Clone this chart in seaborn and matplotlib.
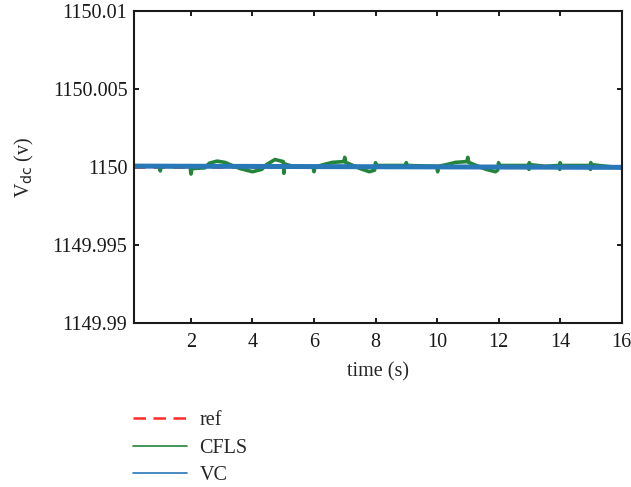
import matplotlib
matplotlib.use("Agg")
import matplotlib.pyplot as plt
from matplotlib.lines import Line2D
import seaborn as sns
import pandas as pd

# ---- data ----
ref_t = [0.16, 16.0]
ref_v = [1150.0, 1150.0]

cfls_t = [0.16, 0.5, 0.8, 0.97, 1.0, 1.03, 1.3, 1.97, 2.0, 2.03, 2.45, 2.6, 2.85,
          3.1, 3.4, 3.6, 4.0, 4.3, 4.45, 4.73, 5.0, 5.02, 5.05, 5.3, 5.97, 6.0,
          6.03, 6.3, 6.6, 6.97, 7.0, 7.03, 7.33, 7.5, 7.8, 7.97, 8.0, 8.03, 8.97,
          9.0, 9.03, 9.99, 10.02, 10.05, 10.3, 10.6, 10.97, 11.0, 11.03, 11.4,
          11.6, 11.9, 11.97, 12.0, 12.03, 12.97, 12.99, 13.0, 13.03, 13.5, 13.97,
          13.99, 14.0, 14.03, 14.97, 14.99, 15.0, 15.03, 15.5, 16.0]
cfls_v = [1150.00003, 1150.00005, 1150.00008, 1150.00005, 1149.99975, 1150.00003,
          1150.00003, 1150.00003, 1149.99955, 1149.9999, 1149.99995, 1150.00025,
          1150.00038, 1150.0003, 1150.00005, 1149.9999, 1149.9997, 1149.99985,
          1150.00015, 1150.00048, 1150.00035, 1149.9996, 1150.0002, 1150.00005,
          1150.0, 1149.9997, 1150.0, 1150.00015, 1150.0003, 1150.00035, 1150.00062,
          1150.0003, 1150.00005, 1149.9999, 1149.9997, 1149.9998, 1150.00028,
          1150.0001, 1150.0001, 1150.00028, 1150.0001, 1150.00005, 1149.9997,
          1150.00005, 1150.00015, 1150.0003, 1150.00035, 1150.00062, 1150.0003,
          1150.0, 1149.99985, 1149.9997, 1149.9998, 1150.00028, 1150.0001,
          1150.0001, 1149.99985, 1150.00028, 1150.00015, 1150.00005, 1150.0001,
          1149.99985, 1150.00028, 1150.0001, 1150.0001, 1149.99985, 1150.00028,
          1150.00015, 1150.00005, 1149.99995]

vc_t = [0.16, 4.0, 8.0, 12.0, 16.0]
vc_v = [1150.00006, 1150.00004, 1150.00002, 1150.0, 1149.99998]

x_ticks = [2, 4, 6, 8, 10, 12, 14, 16]
y_ticks = [1149.99, 1149.995, 1150.0, 1150.005, 1150.01]
y_tick_labels = ["1149.99", "1149.995", "1150", "1150.005", "1150.01"]
series_names = ["ref", "CFLS", "VC"]
series_colors = ["#ff2a2a", "#23843a", "#2878b8"]

sns.set_theme(style="ticks")
plt.rcParams["font.family"] = ["Liberation Serif", "DejaVu Serif"]
plt.rcParams["mathtext.default"] = "regular"

fig = plt.figure(figsize=(6.31, 4.87), dpi=100)
ax = fig.add_axes([0.213, 0.337, 0.772, 0.640])

df_ref = pd.DataFrame({"t": ref_t, "v": ref_v})
df_cfls = pd.DataFrame({"t": cfls_t, "v": cfls_v})
df_vc = pd.DataFrame({"t": vc_t, "v": vc_v})

sns.lineplot(data=df_ref, x="t", y="v", ax=ax, color=series_colors[0], lw=2.0,
             linestyle=(0, (4, 3)), sort=False)
sns.lineplot(data=df_cfls, x="t", y="v", ax=ax, color=series_colors[1], lw=2.6,
             sort=False)
sns.lineplot(data=df_vc, x="t", y="v", ax=ax, color=series_colors[2], lw=3.6,
             sort=False)

ax.set_xlim(0.16, 16)
ax.set_ylim(1149.99, 1150.01)
ax.set_xticks(x_ticks)
ax.set_xticklabels([str(v) for v in x_ticks])
ax.set_yticks(y_ticks)
ax.set_yticklabels(y_tick_labels)

for s in ax.spines.values():
    s.set_visible(True)
    s.set_linewidth(1.5)
    s.set_color("#1a1a1a")
ax.tick_params(direction="in", length=3.5, width=1.4, top=True, right=True,
               labelsize=14.5, colors="#1a1a1a", pad=5)
ax.tick_params(axis="x", pad=7)

ax.set_xlabel("time (s)", fontsize=14.5, labelpad=8)
ax.set_ylabel(r"V$_{\mathrm{dc}}$ (v)", fontsize=14.5, labelpad=12)

handles = [
    Line2D([], [], color=series_colors[0], lw=1.8, linestyle=(0, (5, 3))),
    Line2D([], [], color=series_colors[1], lw=1.2),
    Line2D([], [], color=series_colors[2], lw=1.2),
]
fig.legend(handles, series_names, loc="upper left",
           bbox_to_anchor=(125 / 631, 1 - 403 / 487), frameon=False,
           fontsize=14.5, handlelength=2.7, handletextpad=0.6,
           labelspacing=0.42, borderaxespad=0)

fig.savefig("out.png", dpi=100)
